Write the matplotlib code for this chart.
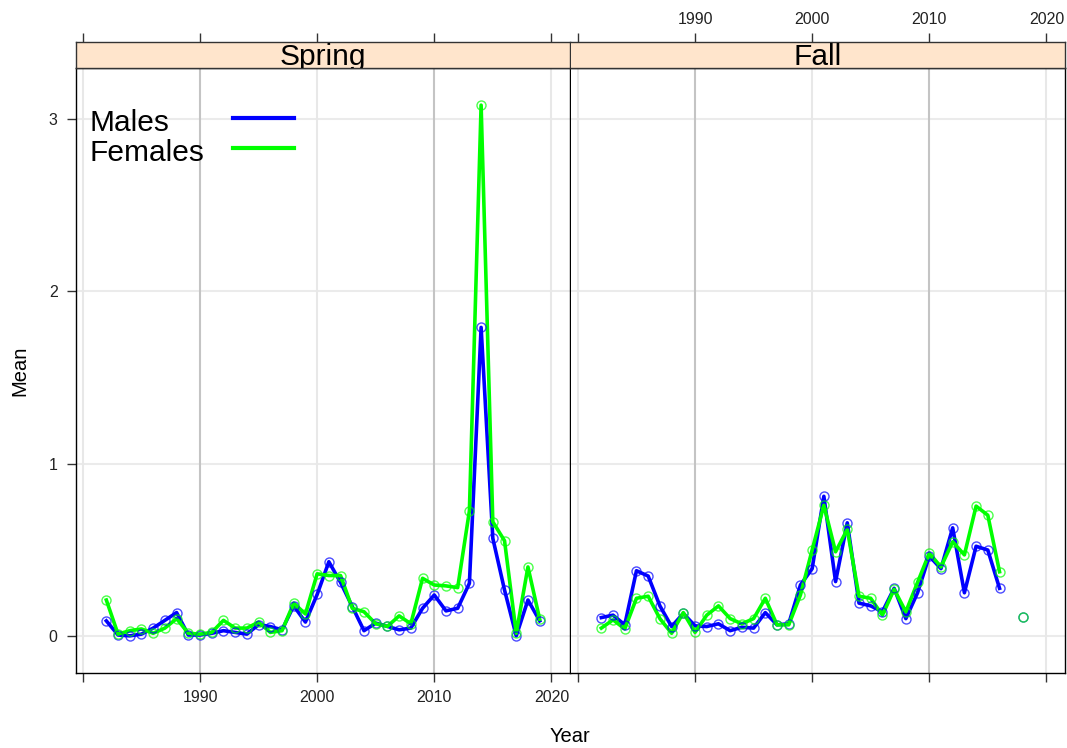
import numpy as np
import matplotlib
matplotlib.use("Agg")
import matplotlib.pyplot as plt
from matplotlib.lines import Line2D

plt.rcParams['font.family'] = ['Liberation Sans', 'DejaVu Sans']

# data
spring_years = list(range(1982, 2020))
spring_males = [0.087, 0.005, 0.0, 0.01, 0.045, 0.09, 0.135, 0.005, 0.005, 0.015,
                0.03, 0.02, 0.01, 0.065, 0.054, 0.035, 0.174, 0.08, 0.24, 0.43,
                0.31, 0.17, 0.03, 0.074, 0.055, 0.035, 0.045, 0.16, 0.237, 0.145,
                0.16, 0.305, 1.79, 0.566, 0.266, 0.0, 0.208, 0.087]
spring_females = [0.208, 0.01, 0.03, 0.04, 0.015, 0.045, 0.1, 0.015, 0.01, 0.02,
                  0.09, 0.045, 0.045, 0.08, 0.02, 0.03, 0.19, 0.127, 0.36, 0.35,
                  0.35, 0.16, 0.14, 0.07, 0.055, 0.116, 0.07, 0.334, 0.295, 0.29,
                  0.28, 0.725, 3.08, 0.662, 0.552, 0.015, 0.4, 0.097]

fall_years = list(range(1982, 2019))
fall_males = [0.106, 0.12, 0.064, 0.378, 0.347, 0.174, 0.054, 0.13, 0.058, 0.054,
              0.07, 0.03, 0.05, 0.045, 0.135, 0.064, 0.07, 0.295, 0.39, 0.81,
              0.315, 0.656, 0.19, 0.174, 0.14, 0.276, 0.1, 0.25, 0.463, 0.39,
              0.627, 0.25, 0.52, 0.498, 0.276, np.nan, 0.112]
fall_females = [0.045, 0.093, 0.04, 0.218, 0.23, 0.1, 0.015, 0.135, 0.02, 0.12,
                0.174, 0.1, 0.07, 0.1, 0.218, 0.064, 0.064, 0.237, 0.498, 0.758,
                0.488, 0.618, 0.23, 0.218, 0.12, 0.27, 0.14, 0.31, 0.48, 0.4,
                0.546, 0.47, 0.753, 0.70, 0.372, np.nan, 0.11]

panels = ["Spring", "Fall"]
series_names = ["Males", "Females"]
series_colors = ["#0000FF", "#00FF00"]
x_ticks = [1980, 1990, 2000, 2010, 2020]
x_labels = ["", "1990", "2000", "2010", "2020"]
y_ticks = [0, 1, 2, 3]

# lattice style 7% padding on the data range
allx = spring_years + fall_years
ally = np.array(spring_males + spring_females + fall_males + fall_females)
xr = max(allx) - min(allx)
x_lim = (min(allx) - 0.07 * xr, max(allx) + 0.07 * xr)
yr = np.nanmax(ally) - np.nanmin(ally)
y_lim = (np.nanmin(ally) - 0.07 * yr, np.nanmax(ally) + 0.07 * yr)

W, H = 1067, 748
fig = plt.figure(figsize=(W / 100, H / 100), dpi=100)

def fx(px):
    return px / W

def fy(py):
    return 1 - py / H

pan_left = [76, 571]
pan_w = 494
pan_top, pan_bot = 68, 673
strip_top = 42
tick_kw = dict(direction="out", length=6.8, width=1, color="#333333",
               labelsize=11.5, labelcolor="#222222")

data = {
    "Spring": (spring_years, spring_males, spring_females),
    "Fall": (fall_years, fall_males, fall_females),
}

for i, name in enumerate(panels):
    ax = fig.add_axes([fx(pan_left[i]), fy(pan_bot), fx(pan_w), (pan_bot - pan_top) / H])
    st = fig.add_axes([fx(pan_left[i]), fy(pan_top), fx(pan_w), (pan_top - strip_top) / H],
                      sharex=ax)

    # grid
    for y in y_ticks:
        ax.axhline(y, color="#EBEBEB", lw=1.5, zorder=0)
    for x in x_ticks:
        c = "#C4C4C4" if x in (1990, 2010) else "#E8E8E8"
        ax.axvline(x, color=c, lw=1.5, zorder=0)

    yrs, m, f = data[name]
    for vals, col in zip([m, f], series_colors):
        ax.plot(yrs, vals, color=col, lw=2.6, zorder=2)
        ax.plot(yrs, vals, ls="none", marker="o", ms=6.5, mfc="none",
                mec=col, mew=1.0, alpha=0.7, zorder=3)

    ax.set_xlim(x_lim)
    ax.set_ylim(y_lim)
    ax.set_xticks(x_ticks)
    ax.set_xticklabels(x_labels)
    ax.set_yticks(y_ticks)
    for s in ax.spines.values():
        s.set_color("black")
        s.set_linewidth(1.0)
    if i == 1:
        ax.spines["left"].set_visible(False)

    ax.tick_params(axis="x", pad=5.5, labelbottom=(i == 0), **tick_kw)
    if i == 0:
        ax.tick_params(axis="y", pad=6.5, **tick_kw)
    else:
        ax.tick_params(axis="y", left=False, labelleft=False)

    # strip with top ticks
    st.set_facecolor("#FFE5CC")
    st.set_ylim(0, 1)
    st.set_yticks([])
    for s in st.spines.values():
        s.set_color("#333333")
        s.set_linewidth(1.0)
    if i == 1:
        st.spines["left"].set_visible(False)
    st.tick_params(axis="x", bottom=False, labelbottom=False, top=True,
                   labeltop=(i == 1), pad=4, **tick_kw)
    st.text(0.5, 0.115, name, transform=st.transAxes, ha="center", va="baseline",
            fontsize=21.5, clip_on=True)

    if i == 0:
        leg_y = [0.8963, 0.8468]
        line_y = [0.917, 0.868]
        for lab, col, ty, ly in zip(series_names, series_colors, leg_y, line_y):
            ax.text(0.028, ty, lab, transform=ax.transAxes, ha="left",
                    va="baseline", fontsize=21.5)
            ax.add_line(Line2D([0.317, 0.442], [ly, ly], transform=ax.transAxes,
                               color=col, lw=3))

fig.text(fx(570), fy(737), "Year", ha="center", va="center", fontsize=14.5)
fig.text(fx(20), fy(371), "Mean", ha="center", va="center", rotation=90, fontsize=14.5)

fig.savefig("out.png", dpi=100)
